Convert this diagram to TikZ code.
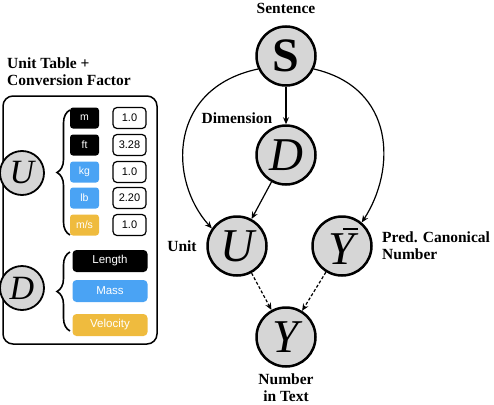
\documentclass[tikz,border=0pt]{standalone}
\usepackage{fontspec}
\setmainfont{Liberation Serif}
\newfontfamily\boxfont{Liberation Sans}
\usetikzlibrary{arrows.meta,decorations.pathreplacing}
\definecolor{nodegray}{HTML}{D6D6D6}
\definecolor{unitblue}{HTML}{4AA3F4}
\definecolor{unityellow}{HTML}{EFBB3E}
\tikzset{
  bignode/.style={circle,draw=black,line width=2.5pt,fill=nodegray,minimum size=59pt,inner sep=0pt,font=\fontsize{47}{47}\selectfont\itshape},
  smallnode/.style={circle,draw=black,line width=1.8pt,fill=nodegray,minimum size=44pt,inner sep=0pt,font=\fontsize{34}{34}\selectfont\itshape},
  lbl/.style={font=\fontsize{15.5}{17}\selectfont\bfseries,inner sep=0pt,align=center},
  edge/.style={line width=1.2pt,-{Stealth[length=7pt,width=6pt]}},
  dedge/.style={line width=1.2pt,dashed,dash pattern=on 3pt off 2pt,-{Stealth[length=7pt,width=6pt]}},
  unitbox/.style={rounded corners=3pt,minimum width=29pt,minimum height=21pt,inner sep=0pt,text=white,font=\boxfont\fontsize{10.5}{12}\selectfont},
  factorbox/.style={rounded corners=4pt,draw=black,line width=1.2pt,fill=white,minimum width=33pt,minimum height=21pt,inner sep=0pt,font=\boxfont\fontsize{11}{12}\selectfont},
  dimbox/.style={rounded corners=4pt,minimum width=75pt,minimum height=22pt,inner sep=0pt,text=white,font=\boxfont\fontsize{11.5}{12}\selectfont},
  bracestyle/.style={decorate,decoration={brace,amplitude=13pt},line width=1.6pt}
}
\begin{document}
\begin{tikzpicture}[x=1pt,y=-1pt]
\useasboundingbox (0,0) rectangle (494,404);
% graph
\node[bignode,font=\fontsize{48}{48}\selectfont\bfseries] (S) at (286,56) {S};
\node[bignode] (D) at (286,155) {D};
\node[bignode] (U) at (237,246) {U};
\node[bignode] (Yb) at (342,246) {\rlap{\hspace{0.30em}\raisebox{0.72em}{\rule{0.32em}{0.055em}}}Y};
\node[bignode] (Y) at (286,337) {Y};
\node[lbl] (lS) at (286,8) {Sentence};
\node[lbl] (lD) at (237,118) {Dimension};
\node[lbl] (lU) at (182,246) {Unit};
\node[lbl,align=left,anchor=west] (lYb) at (382,246) {Pred. Canonical\\Number};
\node[lbl] (lY) at (286,388) {Number\\in Text};
\draw[edge] (S) -- (D);
\draw[edge] (D) -- (U);
\draw[edge] (S.205) .. controls (168,88) and (168,180) .. (U.145);
\draw[edge] (S.-25) .. controls (396,88) and (396,170) .. (Yb.50);
\draw[dedge] (U) -- (Y);
\draw[dedge] (Yb) -- (Y);
% panel
\node[lbl,align=left,anchor=west] (title) at (7,72) {Unit Table +\\Conversion Factor};
\draw[line width=1.5pt,rounded corners=10pt] (3,96) rectangle (157,344);
\node[smallnode] (PU) at (22,173) {U};
\node[smallnode] (PD) at (22,288) {D};
\draw[bracestyle] (70,235) -- (70,110);
\draw[bracestyle] (70,331) -- (70,252);
\node[unitbox,fill=black] (um) at (84.5,118) {m};
\node[unitbox,fill=black] (uft) at (84.5,145) {ft};
\node[unitbox,fill=unitblue] (ukg) at (84.5,172) {kg};
\node[unitbox,fill=unitblue] (ulb) at (84.5,198) {lb};
\node[unitbox,fill=unityellow] (ums) at (84.5,225) {m/s};
\node[factorbox] (fm) at (129.5,118) {1.0};
\node[factorbox] (fft) at (129.5,145) {3.28};
\node[factorbox] (fkg) at (129.5,172) {1.0};
\node[factorbox] (flb) at (129.5,198) {2.20};
\node[factorbox] (fms) at (129.5,225) {1.0};
\node[dimbox,fill=black] (dl) at (110,261) {Length};
\node[dimbox,fill=unitblue] (dm) at (110,291) {Mass};
\node[dimbox,fill=unityellow] (dv) at (110,325) {Velocity};
\end{tikzpicture}
\end{document}
